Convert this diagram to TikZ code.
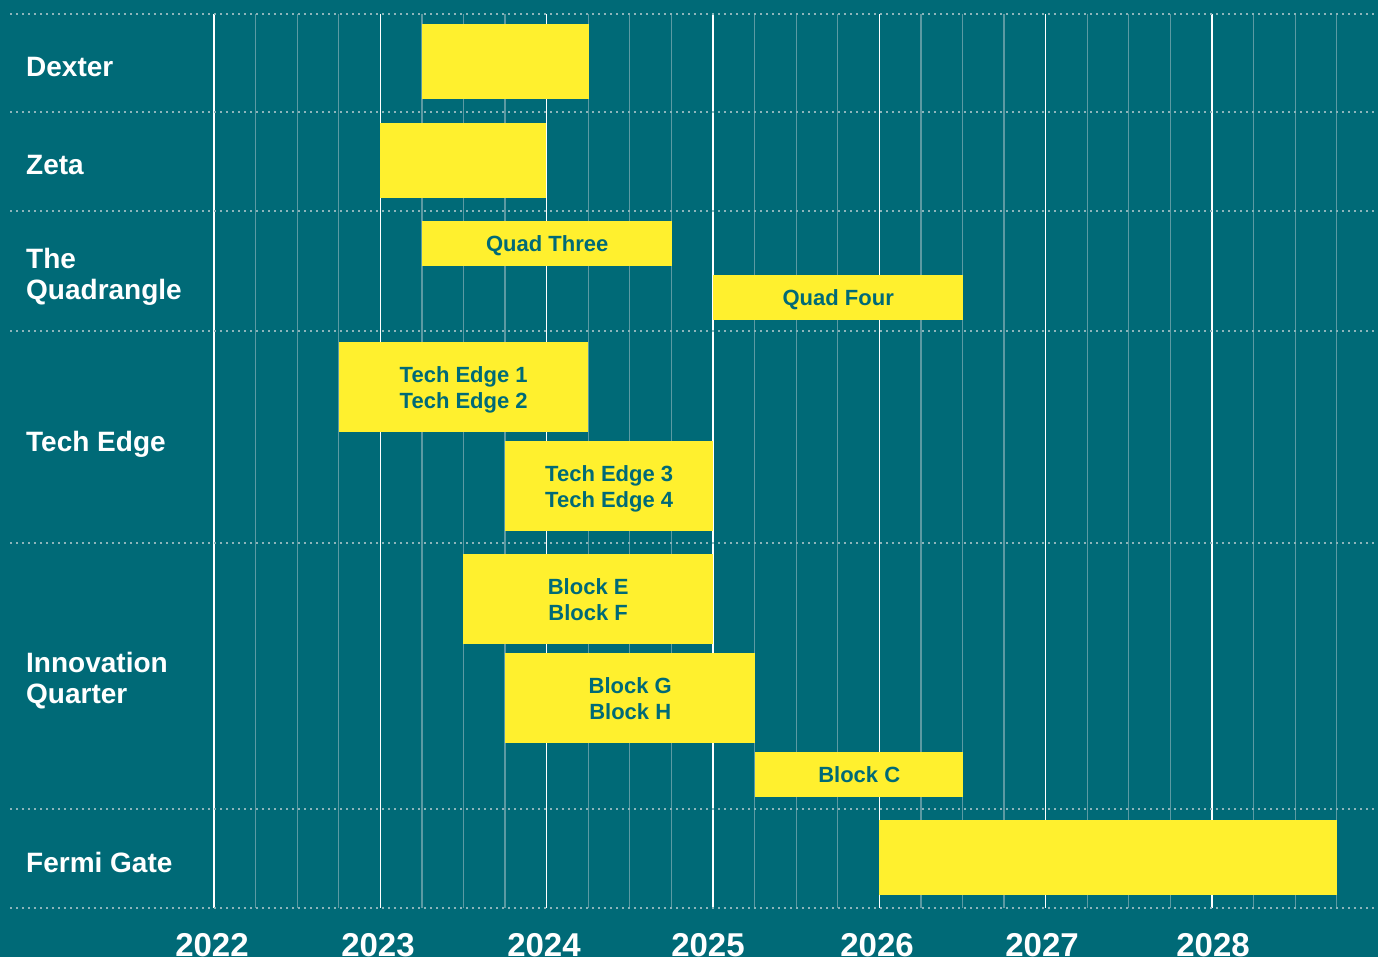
\documentclass[tikz,border=0pt]{standalone}
\usepackage{fontspec}
\setmainfont{Liberation Sans}
\definecolor{bg}{HTML}{006A77}
\definecolor{barY}{HTML}{FFF02E}
\definecolor{minorC}{HTML}{5C9AA3}
\definecolor{dotC}{HTML}{8DB5BB}
\tikzset{
  minorline/.style={minorC, line width=1.2pt},
  majorline/.style={white, line width=1.5pt},
  dotline/.style={dotC, line width=1.6pt, dash pattern=on 1.6pt off 4.4pt},
  bar/.style={fill=barY, draw=none, anchor=north west, inner sep=0pt, text=bg,
    text depth=0pt, font=\bfseries\fontsize{22}{26}\selectfont, align=center},
  rowlabel/.style={anchor=base west, inner sep=0pt, text=white, align=left,
    font=\bfseries\fontsize{28}{31}\selectfont},
  yearlabel/.style={anchor=base, inner sep=0pt, text=white,
    font=\bfseries\fontsize{33}{33}\selectfont}
}
\begin{document}
\begin{tikzpicture}[x=1pt,y=-1pt]
\fill[bg] (0,0) rectangle (1378,957);
\useasboundingbox (0,0) rectangle (1378,957);
% grid
\foreach \k in {0,...,27} {
  \draw[minorline] ({214+\k*41.583},14) -- ({214+\k*41.583},908);
}
\foreach \k in {0,4,...,24} {
  \draw[majorline] ({214+\k*41.583},14) -- ({214+\k*41.583},908);
}
\foreach \y in {14,112,211,331,543,809,908} {
  \draw[dotline] (10,\y) -- (1378,\y);
}
% row labels
\node[rowlabel] (lDexter) at (26,77) {Dexter};
\node[rowlabel] (lZeta) at (26,175) {Zeta};
\node[rowlabel] (lQuad) at (26,300) {The\\Quadrangle};
\node[rowlabel] (lTech) at (26,451) {Tech Edge};
\node[rowlabel] (lInno) at (26,703) {Innovation\\Quarter};
\node[rowlabel] (lFermi) at (26,872) {Fermi Gate};
% bars
\node[bar, minimum width=167pt, minimum height=75pt] (bDexter) at (422,24) {};
\node[bar, minimum width=166pt, minimum height=75pt] (bZeta) at (380,123) {};
\node[bar, minimum width=250pt, minimum height=45pt] (bQ3) at (422,221) {Quad Three};
\node[bar, minimum width=250pt, minimum height=45pt] (bQ4) at (713,275) {Quad Four};
\node[bar, minimum width=249pt, minimum height=90pt] (bTE12) at (339,342) {Tech Edge 1\\Tech Edge 2};
\node[bar, minimum width=208pt, minimum height=90pt] (bTE34) at (505,441) {Tech Edge 3\\Tech Edge 4};
\node[bar, minimum width=250pt, minimum height=90pt] (bEF) at (463,554) {Block E\\Block F};
\node[bar, minimum width=250pt, minimum height=90pt] (bGH) at (505,653) {Block G\\Block H};
\node[bar, minimum width=208pt, minimum height=45pt] (bC) at (755,752) {Block C};
\node[bar, minimum width=458pt, minimum height=75pt] (bFermi) at (879,820) {};
% years
\node[yearlabel] (y2022) at (212,956) {2022};
\node[yearlabel] (y2023) at (378,956) {2023};
\node[yearlabel] (y2024) at (544,956) {2024};
\node[yearlabel] (y2025) at (708,956) {2025};
\node[yearlabel] (y2026) at (877,956) {2026};
\node[yearlabel] (y2027) at (1042,956) {2027};
\node[yearlabel] (y2028) at (1213,956) {2028};
\end{tikzpicture}
\end{document}
